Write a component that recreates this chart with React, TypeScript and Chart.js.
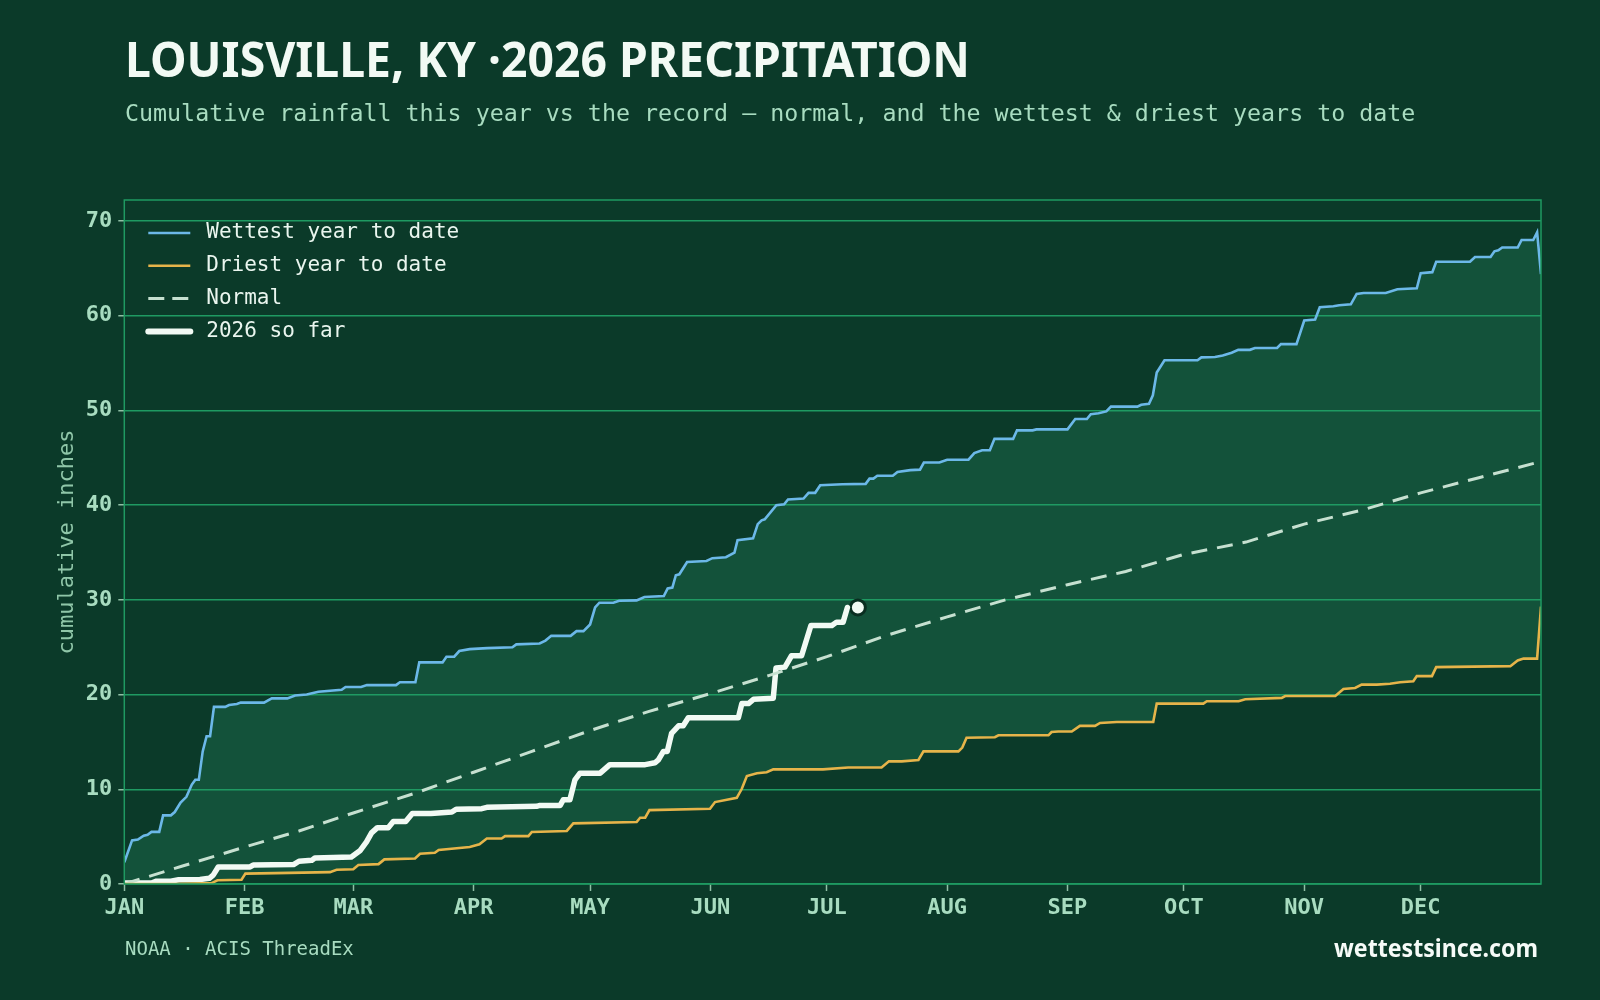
import React, { useEffect, useRef } from "react";
import { Chart, registerables } from "chart.js";

Chart.register(...registerables);

// ---- palette ----
const BG = "#0b3a29";
const FILL = "#13523a";
const GRID = "#1f9a62";
const MINT = "#a8dcc0";
const MINT_DIM = "#8fc6a8";
const BLUE = "#6cb8e8";
const GOLD = "#e6b44a";
const NORMAL_C = "#c6e0d0";
const WHITE = "#f2faf4";
const MONO = '"DejaVu Sans Mono", monospace';
const SANS = '"Noto Sans", "Open Sans", sans-serif';

// ---- axis labels ----
const MONTH_LABELS = ["JAN", "FEB", "MAR", "APR", "MAY", "JUN", "JUL", "AUG", "SEP", "OCT", "NOV", "DEC"];
const MONTH_START_DAY = [0, 31, 59, 90, 120, 151, 181, 212, 243, 273, 304, 334];
const Y_TICKS = [0, 10, 20, 30, 40, 50, 60, 70];

// ---- wettest year to date (day of year, cumulative inches) ----
const WETTEST_DAY = [
  0, 2, 3.5, 5, 6, 7, 9, 10, 12, 13, 14.5, 16, 17.4, 18.3, 19.2, 20.2, 21.2, 22.1, 23.1, 26, 27, 29, 30, 36, 38,
  42, 44, 47, 50, 56, 57, 61, 62.5, 70, 71, 75, 76, 82, 83, 85, 86.3, 89, 93.5, 100, 101, 107, 108.5, 110, 115,
  116.5, 118.3, 120, 121.3, 122.4, 126, 127.5, 132, 134, 139, 140, 141.2, 142.1, 143, 145, 150, 151.5, 155, 157.2,
  158, 162, 163.2, 164.2, 165, 168, 170, 171, 175, 176.3, 178, 179.3, 185, 191, 192, 193, 194, 198, 199.2, 202.5,
  205, 206, 210, 212, 217.5, 219, 221, 223, 224.2, 229, 230, 234, 235, 243, 245, 248, 249, 251, 253, 254.2, 261,
  262, 264, 265, 266, 268, 276.5, 277.5, 281, 283, 285.3, 287, 290, 291.3, 297, 298, 302, 304, 306.8, 308, 311.5,
  313, 316, 317.5, 319.3, 325, 328, 333, 334, 337, 338, 346.7, 348, 352, 353, 354, 355, 359, 360, 363, 364, 365,
];
const WETTEST_IN = [
  2.3, 4.6, 4.7, 5.1, 5.2, 5.5, 5.5, 7.25, 7.25, 7.6, 8.6, 9.2, 10.5, 11.0, 11.0, 14.0, 15.6, 15.6, 18.7, 18.7, 18.9,
  19.0, 19.15, 19.15, 19.6, 19.6, 19.9, 20.0, 20.3, 20.5, 20.8, 20.8, 21.0, 21.0, 21.3, 21.3, 23.4, 23.4, 24.0, 24.0,
  24.6, 24.8, 24.9, 25.0, 25.3, 25.4, 25.7, 26.2, 26.2, 26.7, 26.7, 27.4, 29.2, 29.7, 29.7, 29.9, 29.95, 30.3, 30.4,
  31.2, 31.3, 32.6, 32.7, 34.0, 34.1, 34.4, 34.5, 35.0, 36.3, 36.5, 38.0, 38.4, 38.5, 40.0, 40.1, 40.6, 40.7, 41.3,
  41.3, 42.1, 42.2, 42.25, 42.8, 42.8, 43.1, 43.1, 43.5, 43.7, 43.75, 44.5, 44.5, 44.8, 44.8, 45.5, 45.8, 45.8, 47.0,
  47.0, 47.9, 47.9, 48.0, 48.0, 49.1, 49.1, 49.6, 49.7, 49.9, 50.4, 50.4, 50.6, 50.7, 51.6, 54.0, 55.3, 55.3, 55.6,
  55.65, 55.8, 56.1, 56.4, 56.4, 56.6, 56.6, 57.0, 57.0, 59.5, 59.6, 60.9, 61.0, 61.1, 61.2, 62.3, 62.4, 62.4, 62.8,
  62.9, 64.5, 64.6, 65.7, 65.7, 66.2, 66.2, 66.8, 66.9, 67.2, 67.2, 68.0, 68.0, 68.8, 64.4,
];

// ---- driest year to date ----
const DRIEST_DAY = [
  0, 13, 22.5, 24, 30.2, 31.2, 39, 53, 54.7, 59, 60.3, 65.5, 67, 74.9, 76.2, 80, 81, 89, 91.5, 93.4, 97.2, 98.1,
  104.1, 105, 114, 115.7, 132, 132.9, 134.2, 135.3, 150.9, 152.2, 157.8, 159.1, 160.4, 163, 165.5, 167.2, 180, 186.5,
  195.1, 197, 200.3, 204.6, 205.9, 214.9, 215.9, 217, 224.3, 225.2, 238.1, 238.9, 240.6, 244.1, 246.2, 250.1, 251.4,
  255.7, 265.1, 266, 278, 278.9, 287.1, 288.8, 298.2, 299.1, 312, 314.1, 317.1, 318.8, 322.7, 326.1, 328.7, 332.1,
  333, 336.9, 338, 357.1, 359, 360.5, 364, 365,
];
const DRIEST_IN = [
  0, 0, 0.1, 0.4, 0.45, 1.1, 1.15, 1.25, 1.5, 1.55, 2.0, 2.1, 2.6, 2.7, 3.2, 3.3, 3.6, 3.9, 4.2, 4.8, 4.8, 5.05,
  5.05, 5.5, 5.6, 6.4, 6.55, 7.0, 7.0, 7.8, 7.95, 8.65, 9.1, 10.05, 11.4, 11.7, 11.8, 12.1, 12.1, 12.3, 12.3, 12.95,
  12.95, 13.1, 14.0, 14.0, 14.4, 15.45, 15.5, 15.7, 15.7, 16.05, 16.1, 16.1, 16.7, 16.7, 17.0, 17.1, 17.1, 19.05,
  19.05, 19.3, 19.3, 19.5, 19.65, 19.85, 19.85, 20.6, 20.7, 21.05, 21.05, 21.15, 21.3, 21.4, 21.95, 21.95, 22.9,
  23.0, 23.6, 23.8, 23.8, 29.3,
];

// ---- normal ----
const NORMAL_DAY = [
  0, 15, 31, 45, 59, 75, 90, 105, 120, 135, 151, 166, 181, 196, 212, 227, 243, 258, 273, 289, 304, 319, 334, 349, 364,
  365,
];
const NORMAL_IN = [
  0, 1.9, 3.9, 5.6, 7.5, 9.6, 11.8, 14.0, 16.2, 18.2, 20.1, 22.0, 24.0, 26.2, 28.2, 30.0, 31.6, 33.0, 34.8, 36.1,
  38.0, 39.5, 41.3, 42.9, 44.5, 44.1,
];

// ---- 2026 so far ----
const Y2026_DAY = [
  0, 7, 8.3, 12, 14, 19.5, 21.9, 22.9, 24.2, 32.4, 33.2, 43.6, 45, 48.3, 49.1, 58.5, 60.7, 62.4, 63.7, 65.2, 68,
  69.3, 72.5, 74.2, 79, 84.4, 85.5, 92.1, 93.4, 106.2, 107.1, 112.3, 113.1, 114.8, 116.1, 117.4, 122.6, 125.1, 134.2,
  136.7, 137.6, 138.9, 139.9, 141, 142.8, 144, 145.3, 158.2, 159.1, 160.8, 162.1, 167.2, 167.9, 170.2, 171.9, 174.5,
  176.9, 182.3, 183.5, 185.2, 186.3,
];
const Y2026_IN = [
  0.1, 0.1, 0.3, 0.3, 0.45, 0.47, 0.6, 0.94, 1.8, 1.8, 2.0, 2.05, 2.4, 2.5, 2.75, 2.85, 3.5, 4.45, 5.4, 5.95, 5.95,
  6.6, 6.6, 7.45, 7.45, 7.6, 7.9, 7.95, 8.1, 8.2, 8.3, 8.3, 8.9, 8.9, 11.0, 11.7, 11.7, 12.6, 12.6, 12.8, 13.1, 14.0,
  14.0, 15.9, 16.7, 16.7, 17.55, 17.55, 19.05, 19.05, 19.5, 19.6, 22.8, 22.9, 24.1, 24.1, 27.3, 27.3, 27.65, 27.65,
  29.2,
];

// ---- today marker ----
const TODAY_DAY = [189];
const TODAY_IN = [29.2];

const toPoints = (days: number[], vals: number[]) => days.map((d, i) => ({ x: d, y: vals[i] }));

// Box around the plotting area
const framePlugin = {
  id: "frame",
  afterDatasetsDraw(chart: any) {
    const { ctx, chartArea: a } = chart;
    ctx.save();
    ctx.strokeStyle = GRID;
    ctx.lineWidth = 1.5;
    ctx.strokeRect(a.left, a.top, a.right - a.left, a.bottom - a.top);
    ctx.restore();
  },
};

// Legend drawn inside the top-left corner of the plot
const insetLegendPlugin = {
  id: "insetLegend",
  afterDraw(chart: any) {
    const { ctx, chartArea: a } = chart;
    const x0 = a.left + 24;
    const x1 = a.left + 66;
    const tx = a.left + 82;
    ctx.save();
    chart.data.datasets.slice(0, 4).forEach((ds: any, i: number) => {
      const y = a.top + 33 + i * 32.8;
      ctx.beginPath();
      ctx.strokeStyle = ds.borderColor;
      ctx.lineWidth = ds.legendWidth || ds.borderWidth;
      ctx.lineCap = ds.borderCapStyle || "butt";
      ctx.setLineDash(ds.legendDash || []);
      ctx.moveTo(x0, y);
      ctx.lineTo(x1, y);
      ctx.stroke();
      ctx.setLineDash([]);
      ctx.fillStyle = "#eaf6ef";
      ctx.font = `21px ${MONO}`;
      ctx.textBaseline = "middle";
      ctx.textAlign = "left";
      ctx.fillText(ds.label, tx, y);
    });
    ctx.restore();
  },
};

// Headline, subtitle and footer
const textPlugin = {
  id: "pageText",
  afterDraw(chart: any) {
    const { ctx } = chart;
    ctx.save();
    ctx.textBaseline = "alphabetic";
    ctx.textAlign = "left";
    ctx.fillStyle = "#f2faf4";
    ctx.font = `bold 49px ${SANS}`;
    ctx.fillText("LOUISVILLE, KY \u00b72026 PRECIPITATION", 125, 76.5, 845);
    ctx.fillStyle = MINT;
    ctx.font = `23.3px ${MONO}`;
    ctx.fillText(
      "Cumulative rainfall this year vs the record \u2014 normal, and the wettest & driest years to date",
      125,
      120.5
    );
    ctx.font = `19px ${MONO}`;
    ctx.fillText("NOAA \u00b7 ACIS ThreadEx", 125, 955);
    ctx.textAlign = "right";
    ctx.fillStyle = "#f6fbf8";
    ctx.font = `bold 25px ${SANS}`;
    ctx.fillText("wettestsince.com", 1538, 956.5, 204);
    ctx.restore();
  },
};

export default function App() {
  const canvasRef = useRef<HTMLCanvasElement | null>(null);

  useEffect(() => {
    if (!canvasRef.current) return;
    const chart = new Chart(canvasRef.current, {
      type: "line",
      data: {
        datasets: [
          {
            label: "Wettest year to date",
            data: toPoints(WETTEST_DAY, WETTEST_IN),
            borderColor: BLUE,
            borderWidth: 2.6,
            pointRadius: 0,
            fill: "+1",
            backgroundColor: FILL,
            tension: 0,
          },
          {
            label: "Driest year to date",
            data: toPoints(DRIEST_DAY, DRIEST_IN),
            borderColor: GOLD,
            borderWidth: 2.6,
            pointRadius: 0,
            fill: false,
          },
          {
            label: "Normal",
            data: toPoints(NORMAL_DAY, NORMAL_IN),
            borderColor: NORMAL_C,
            borderWidth: 3,
            borderDash: [16, 10],
            legendDash: [16, 8],
            pointRadius: 0,
            fill: false,
          },
          {
            label: "2026 so far",
            data: toPoints(Y2026_DAY, Y2026_IN),
            borderColor: WHITE,
            borderWidth: 5.5,
            legendWidth: 6,
            borderCapStyle: "round",
            borderJoinStyle: "round",
            pointRadius: 0,
            fill: false,
          },
          {
            label: "today",
            data: toPoints(TODAY_DAY, TODAY_IN),
            showLine: false,
            pointRadius: 7.5,
            pointBackgroundColor: WHITE,
            pointBorderColor: "#0a2e21",
            pointBorderWidth: 3,
            fill: false,
          },
        ] as any,
      },
      options: {
        responsive: false,
        animation: false,
        events: [],
        layout: { padding: { left: 0, right: 59, top: 200, bottom: 76 } },
        plugins: {
          legend: { display: false },
          tooltip: { enabled: false },
          filler: { drawTime: "beforeDraw" },
        } as any,
        scales: {
          x: {
            type: "linear",
            min: 0,
            max: 365,
            afterBuildTicks: (s: any) => {
              s.ticks = MONTH_START_DAY.map((v) => ({ value: v }));
            },
            afterFit: (s: any) => {
              s.height = 40;
            },
            ticks: {
              autoSkip: false,
              maxRotation: 0,
              padding: 4,
              color: MINT,
              font: { family: MONO, size: 22, weight: "bold" },
              callback: (v: any) => MONTH_LABELS[MONTH_START_DAY.indexOf(Number(v))] ?? "",
            },
            grid: { drawOnChartArea: false, drawTicks: true, tickLength: 7, tickColor: "#8fbfa5", tickWidth: 1.5 },
            border: { display: false },
          },
          y: {
            type: "linear",
            min: 0,
            max: 72.22,
            afterBuildTicks: (s: any) => {
              s.ticks = Y_TICKS.map((v) => ({ value: v }));
            },
            afterFit: (s: any) => {
              s.width = 124.3;
            },
            ticks: {
              padding: 6,
              color: MINT,
              font: { family: MONO, size: 22, weight: "bold" },
            },
            grid: { color: GRID, lineWidth: 1.5, tickLength: 6, tickColor: "#8fbfa5", tickWidth: 1.5 },
            border: { display: false },
            title: {
              display: true,
              text: "cumulative inches",
              color: MINT_DIM,
              font: { family: MONO, size: 22 },
              padding: { top: 54, bottom: 0 },
            },
          },
        },
      } as any,
      plugins: [framePlugin, insetLegendPlugin, textPlugin],
    });
    return () => chart.destroy();
  }, []);

  return (
    <div style={{ position: "fixed", left: 0, top: 0, width: 1600, height: 1000, background: BG }}>
      <canvas ref={canvasRef} width={1600} height={1000} style={{ display: "block", width: 1600, height: 1000 }} />
    </div>
  );
}
